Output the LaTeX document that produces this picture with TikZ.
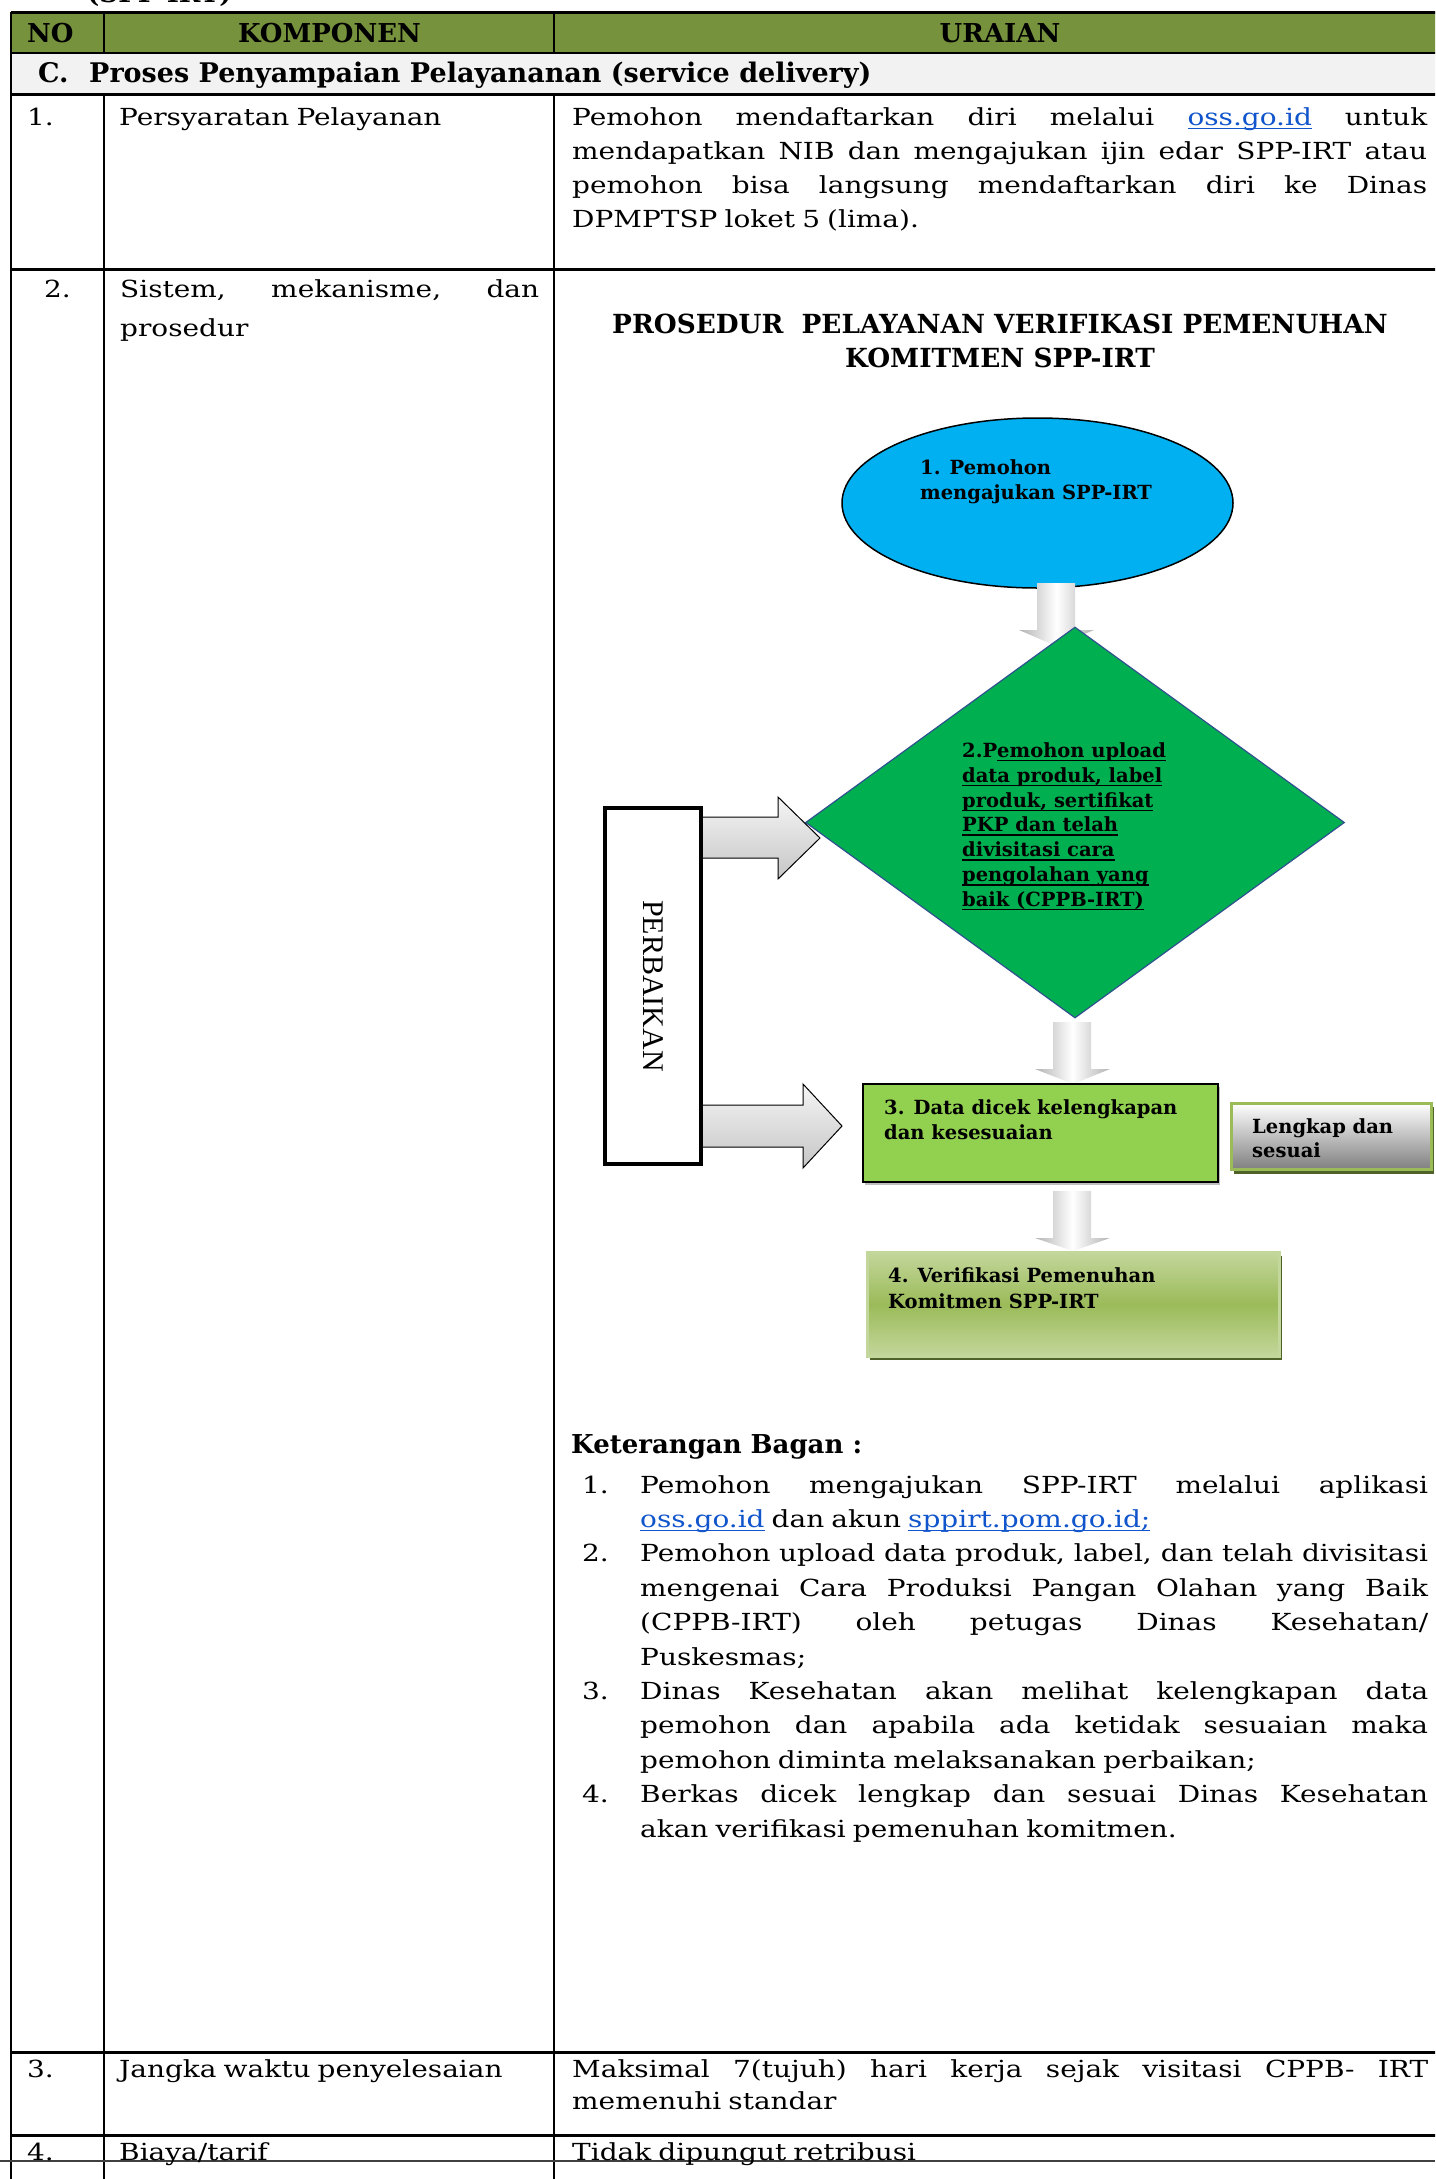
\documentclass[tikz,border=0pt]{standalone}
\usepackage{fontspec}
\setmainfont{DejaVu Serif}[FakeStretch=1.19,WordSpace=0.8]
\newfontfamily\bfnt{DejaVu Serif}
\newfontfamily\tms{Liberation Serif}
\usetikzlibrary{shapes.geometric}
\definecolor{olive}{RGB}{118,146,60}
\definecolor{secgrey}{RGB}{242,242,242}
\definecolor{cyanb}{RGB}{0,176,240}
\definecolor{dgreen}{RGB}{0,176,80}
\definecolor{dblue}{RGB}{47,82,143}
\definecolor{lgreen}{RGB}{146,208,80}
\definecolor{lnkblue}{RGB}{17,85,204}
\definecolor{bgreen}{RGB}{155,187,89}
\definecolor{pgreen}{RGB}{195,214,155}
\definecolor{sgreen}{RGB}{79,98,40}
\newcommand\myul[1]{\setbox0\hbox{#1}\rlap{\rule[-4pt]{\wd0}{1.3pt}}\box0}
\newcommand\lnk[1]{{\color{lnkblue}\myul{#1}}}
\newcommand\jl[2]{\makebox[#1pt][s]{#2}}
\begin{document}
\begin{tikzpicture}[x=1pt,y=-1pt,
 tx/.style={inner sep=0pt,anchor=base west,font=\fontsize{23.5}{34}\selectfont},
 hb/.style={inner sep=0pt,anchor=base west,font=\bfnt\bfseries\fontsize{26}{30}\selectfont},
 hbc/.style={hb,anchor=base},
 fl/.style={inner sep=0pt,anchor=base west,font=\bfnt\bfseries\fontsize{19.5}{25}\selectfont},
 hl/.style={line width=3pt},
 vl/.style={line width=2.5pt},
 rarr/.style={draw=black,line width=1pt,top color=gray!8,bottom color=gray!45},
 darr/.style={left color=gray!60,right color=gray!60,middle color=white},
]
\useasboundingbox (0,0) rectangle (1435,2179);
\clip (0,0) rectangle (1435,2179);
\fill[white] (0,0) rectangle (1435,2179);
% ---------- table ----------
\fill[olive] (11,12) rectangle (1444,53);
\fill[secgrey] (11,53) rectangle (1444,94);
\draw[hl] (11,12) -- (1444,12);
\draw[line width=2pt] (11,53) -- (1444,53);
\draw[hl] (11,94) -- (1444,94);
\draw[hl] (11,269) -- (1444,269);
\draw[hl] (11,2052) -- (1444,2052);
\draw[hl] (11,2135) -- (1444,2135);
\draw[vl] (11,12) -- (11,2179);
\draw[vl] (104,12) -- (104,53);
\draw[vl] (104,94) -- (104,2179);
\draw[vl] (554,12) -- (554,53);
\draw[vl] (554,94) -- (554,2179);
\draw[vl] (1444,12) -- (1444,2179);
\draw[line width=1.5pt,black!75] (0,2161) -- (1435,2161);
% top clipped caption
\node[hb] (cap) at (87,2) {(SPP-IRT)};
% header
\node[hb] (hno) at (27,42) {NO};
\node[hbc] (hkomp) at (329.5,42) {KOMPONEN};
\node[hbc] (hur) at (1000,42) {URAIAN};
\node[hb,font=\bfnt\bfseries\fontsize{27}{30}\selectfont] (secc) at (38,82) {C.};
\node[hb,font=\bfnt\bfseries\fontsize{27}{30}\selectfont] (sect) at (89,82) {Proses Penyampaian Pelayananan (service delivery)};
% row 1
\node[tx] (r1n) at (27,125) {1.};
\node[tx] (r1k) at (119,125) {Persyaratan Pelayanan};
\node[tx] (r1a) at (572,125) {\jl{855}{Pemohon mendaftarkan diri melalui \lnk{oss.go.id} untuk}};
\node[tx] (r1b) at (572,159) {\jl{855}{mendapatkan NIB dan mengajukan ijin edar SPP-IRT atau}};
\node[tx] (r1c) at (572,193) {\jl{855}{pemohon bisa langsung mendaftarkan diri ke Dinas}};
\node[tx] (r1d) at (572,227) {DPMPTSP loket 5 (lima).};
% row 2
\node[tx] (r2n) at (44,297) {2.};
\node[tx] (r2k1) at (120,297) {\jl{419}{Sistem, mekanisme, dan}};
\node[tx] (r2k2) at (120,336) {prosedur};
\node[hbc,font=\bfnt\bfseries\fontsize{26.3}{30}\selectfont] (tt1) at (1000,333) {PROSEDUR\ \ PELAYANAN VERIFIKASI PEMENUHAN};
\node[hbc,font=\bfnt\bfseries\fontsize{26.3}{30}\selectfont] (tt2) at (1000,367) {KOMITMEN SPP-IRT};
% ---------- flowchart ----------
\node[ellipse,draw,line width=1.5pt,fill=cyanb,minimum width=391,minimum height=170,inner sep=0] (e1) at (1037.5,503) {};
\node[fl] (e1a) at (920,474) {1. Pemohon};
\node[fl] (e1b) at (920,499) {mengajukan SPP-IRT};
% arrow ellipse -> diamond
\path[darr] (1037,583) -- (1075,583) -- (1075,630) -- (1094,630) -- (1056,646) -- (1019,630) -- (1037,630) -- cycle;
\node[diamond,draw=dblue,line width=1.2pt,fill=dgreen,minimum width=539,minimum height=391,inner sep=0] (d2) at (1075,822.5) {};
\node[fl] (d2a) at (962,757) {2.P\myul{emohon upload}};
\node[fl] (d2b) at (962,782) {\myul{data produk, label}};
\node[fl] (d2c) at (962,807) {\myul{produk, sertifikat}};
\node[fl] (d2d) at (962,831.7) {\myul{PKP dan telah}};
\node[fl] (d2e) at (962,856.6) {\myul{divisitasi cara}};
\node[fl] (d2f) at (962,881.5) {\myul{pengolahan yang}};
\node[fl] (d2g) at (962,906.4) {\myul{baik (CPPB-IRT)}};
% arrow diamond -> box3
\path[darr] (1053,1022) -- (1091,1022) -- (1091,1069) -- (1110,1069) -- (1073,1084) -- (1035,1069) -- (1053,1069) -- cycle;
% box 3
\fill[black!25] (865,1087) rectangle (1220,1185);
\node[draw,line width=2pt,fill=lgreen,minimum width=355,minimum height=98,inner sep=0,anchor=north west] (b3) at (862,1083) {};
\node[fl] (b3a) at (884,1114) {3. Data dicek kelengkapan};
\node[fl] (b3b) at (884,1139) {dan kesesuaian};
% lengkap box
\fill[sgreen] (1234,1107) rectangle (1434,1174);
\node[draw=bgreen,line width=2.5pt,top color=white,bottom color=black!50,minimum width=200,minimum height=66,inner sep=0,anchor=north west] (lk) at (1230,1102) {};
\node[fl] (lka) at (1252,1133) {Lengkap dan};
\node[fl] (lkb) at (1252,1157) {sesuai};
% arrow box3 -> box4
\path[darr] (1053,1191) -- (1091,1191) -- (1091,1238) -- (1110,1238) -- (1073,1251) -- (1035,1238) -- (1053,1238) -- cycle;
% box 4
\fill[sgreen] (870,1256) rectangle (1282,1360);
\node[draw=pgreen,line width=2.5pt,top color=pgreen,bottom color=pgreen,middle color=bgreen,minimum width=412,minimum height=104,inner sep=0,anchor=north west] (b4) at (866,1251) {};
\node[fl] (b4a) at (888,1282) {4. Verifikasi Pemenuhan};
\node[fl] (b4b) at (888,1308) {Komitmen SPP-IRT};
% perbaikan arrows
\path[rarr] (699,817) -- (778,817) -- (778,797) -- (820,838) -- (778,879) -- (778,858) -- (699,858) -- cycle;
\path[rarr] (699,1105) -- (803,1105) -- (803,1084) -- (842,1126) -- (803,1168) -- (803,1147) -- (699,1147) -- cycle;
\fill[black!20] (606,810) rectangle (703,1166);
\node[draw,line width=4pt,fill=white,minimum width=96,minimum height=356,inner sep=0,anchor=north west] (pb) at (603,806) {};
\node[font=\tms\fontsize{30}{34}\selectfont,rotate=-90,inner sep=0] (pbt) at (pb.center) {PERBAIKAN};
% ---------- keterangan ----------
\node[hb] (kh) at (571,1453) {Keterangan Bagan :};
\node[tx] (k1n) at (582,1493) {1.};
\node[tx] (k1a) at (640,1493) {\jl{788}{Pemohon mengajukan SPP-IRT melalui aplikasi}};
\node[tx] (k1b) at (640,1527.4) {\lnk{oss.go.id} dan akun \lnk{sppirt.pom.go.id;}};
\node[tx] (k2n) at (582,1561.8) {2.};
\node[tx] (k2a) at (640,1561.8) {\jl{788}{Pemohon upload data produk, label, dan telah divisitasi}};
\node[tx] (k2b) at (640,1596.2) {\jl{788}{mengenai Cara Produksi Pangan Olahan yang Baik}};
\node[tx] (k2c) at (640,1630.6) {\jl{788}{(CPPB-IRT) oleh petugas Dinas Kesehatan/}};
\node[tx] (k2d) at (640,1665) {Puskesmas;};
\node[tx] (k3n) at (582,1699.4) {3.};
\node[tx] (k3a) at (640,1699.4) {\jl{788}{Dinas Kesehatan akan melihat kelengkapan data}};
\node[tx] (k3b) at (640,1733.8) {\jl{788}{pemohon dan apabila ada ketidak sesuaian maka}};
\node[tx] (k3c) at (640,1768.2) {pemohon diminta melaksanakan perbaikan;};
\node[tx] (k4n) at (582,1802.6) {4.};
\node[tx] (k4a) at (640,1802.6) {\jl{788}{Berkas dicek lengkap dan sesuai Dinas Kesehatan}};
\node[tx] (k4b) at (640,1837) {akan verifikasi pemenuhan komitmen.};
% row 3
\node[tx] (r3n) at (27,2077) {3.};
\node[tx] (r3k) at (119,2077) {Jangka waktu penyelesaian};
\node[tx] (r3a) at (572,2077) {\jl{856}{Maksimal 7(tujuh) hari kerja sejak visitasi CPPB- IRT}};
\node[tx] (r3b) at (572,2109) {memenuhi standar};
% row 4
\node[tx] (r4n) at (27,2160) {4.};
\node[tx] (r4k) at (119,2160) {Biaya/tarif};
\node[tx] (r4a) at (572,2160) {Tidak dipungut retribusi};
\end{tikzpicture}
\end{document}
